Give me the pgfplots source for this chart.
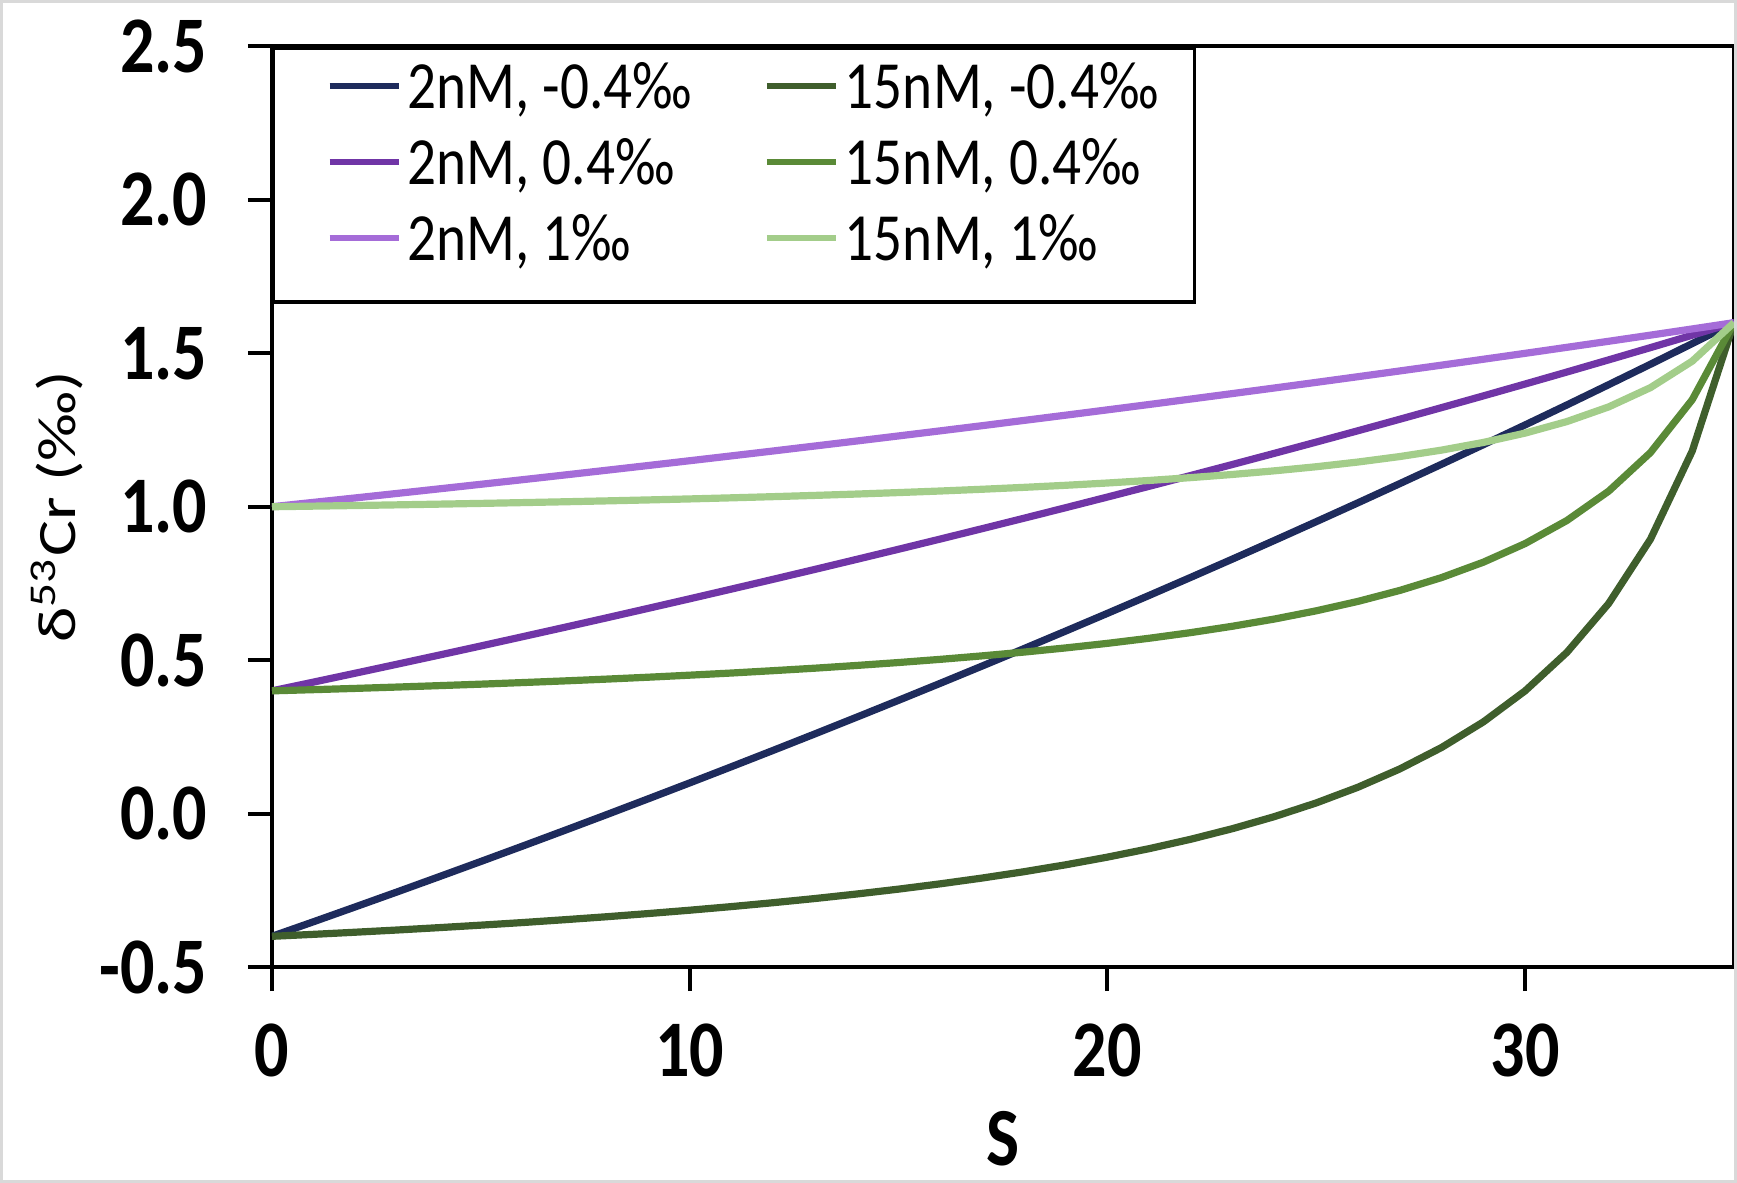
\documentclass[border=0pt]{standalone}
\usepackage{fontspec}
\setmainfont{Carlito}
\usepackage{graphicx}
\usepackage{pgfplots}
\usepackage{pgfplotstable}
\pgfplotsset{compat=1.18}
\definecolor{cA}{HTML}{1E2B5C}
\definecolor{cB}{HTML}{7035A6}
\definecolor{cC}{HTML}{A56CD8}
\definecolor{cD}{HTML}{3F5E2C}
\definecolor{cE}{HTML}{5A8A37}
\definecolor{cF}{HTML}{A3CD8A}
\newcommand{\vs}[1]{\scalebox{1}[1.18]{#1}}
\pgfplotstableread{
S a b c d e f
0 -0.4000 0.4000 1.0000 -0.4000 0.4000 1.0000
1 -0.3522 0.4287 1.0144 -0.3935 0.4039 1.0020
2 -0.3038 0.4577 1.0288 -0.3866 0.4080 1.0040
3 -0.2551 0.4870 1.0435 -0.3794 0.4124 1.0062
4 -0.2058 0.5165 1.0583 -0.3717 0.4170 1.0085
5 -0.1561 0.5463 1.0732 -0.3636 0.4218 1.0109
6 -0.1059 0.5765 1.0882 -0.3551 0.4270 1.0135
7 -0.0552 0.6069 1.1034 -0.3459 0.4324 1.0162
8 -0.0040 0.6376 1.1188 -0.3363 0.4382 1.0191
9 0.0478 0.6687 1.1343 -0.3259 0.4444 1.0222
10 0.1000 0.7000 1.1500 -0.3149 0.4511 1.0255
11 0.1528 0.7317 1.1658 -0.3031 0.4581 1.0291
12 0.2061 0.7636 1.1818 -0.2904 0.4658 1.0329
13 0.2599 0.7959 1.1980 -0.2768 0.4739 1.0370
14 0.3143 0.8286 1.2143 -0.2621 0.4828 1.0414
15 0.3692 0.8615 1.2308 -0.2462 0.4923 1.0462
16 0.4247 0.8948 1.2474 -0.2289 0.5027 1.0513
17 0.4808 0.9285 1.2642 -0.2101 0.5140 1.0570
18 0.5375 0.9625 1.2813 -0.1895 0.5263 1.0632
19 0.5948 0.9969 1.2984 -0.1669 0.5399 1.0699
20 0.6526 1.0316 1.3158 -0.1419 0.5548 1.0774
21 0.7111 1.0667 1.3333 -0.1143 0.5714 1.0857
22 0.7702 1.1021 1.3511 -0.0835 0.5899 1.0950
23 0.8299 1.1380 1.3690 -0.0489 0.6107 1.1053
24 0.8903 1.1742 1.3871 -0.0098 0.6341 1.1171
25 0.9514 1.2108 1.4054 0.0348 0.6609 1.1304
26 1.0130 1.2478 1.4239 0.0860 0.6916 1.1458
27 1.0754 1.2852 1.4426 0.1455 0.7273 1.1636
28 1.1385 1.3231 1.4615 0.2154 0.7692 1.1846
29 1.2022 1.3613 1.4807 0.2988 0.8193 1.2096
30 1.2667 1.4000 1.5000 0.4000 0.8800 1.2400
31 1.3318 1.4391 1.5196 0.5254 0.9552 1.2776
32 1.3978 1.4787 1.5393 0.6847 1.0508 1.3254
33 1.4644 1.5186 1.5593 0.8941 1.1765 1.3882
34 1.5318 1.5591 1.5795 1.1814 1.3488 1.4744
35 1.6000 1.6000 1.6000 1.6000 1.6000 1.6000
}\datatable
\begin{document}
\begin{tikzpicture}
\begin{axis}[
  at={(0,0)}, anchor=south west,
  scale only axis, width=365.5bp, height=230.125bp,
  xmin=0, xmax=35, ymin=-0.5, ymax=2.5,
  xtick={0,10,20,30}, ytick={-0.5,0,0.5,1,1.5,2,2.5},
  tick align=outside, tick pos=left, major tick length=6bp,
  axis line style={line width=1bp, black},
  every tick/.style={black, line width=1bp},
  /pgf/number format/assume math mode=true,
  ticklabel style={font=\fontsize{17bp}{20bp}\selectfont\bfseries, inner sep=0pt},
  yticklabel={\vs{\pgfmathprintnumber[fixed, fixed zerofill, precision=1]{\tick}}},
  xticklabel={\vs{\pgfmathprintnumber{\tick}}},
  yticklabel style={anchor=east, xshift=-10bp},
  xticklabel style={anchor=base, yshift=-21.25bp},
  xlabel={\vs{S}},
  xlabel style={font=\fontsize{17.5bp}{20bp}\selectfont\bfseries, at={(axis description cs:0.5,0)}, anchor=base, yshift=-49.5bp, inner sep=0pt},
  ylabel={\scalebox{1.25}[1]{δ\textsuperscript{53}Cr (‰)}},
  ylabel style={font=\fontsize{13.5bp}{15bp}\selectfont, at={([xshift=-53.75bp]axis description cs:0,0.5)}, anchor=center, inner sep=0pt},
  legend columns=2,
  legend image code/.code={\path[draw=none, fill=none] (0bp,0bp) -- (23.75bp,0bp); \draw[#1, line width=1.6bp] (6.5bp,5.6bp) -- (23.75bp,5.6bp);},
  legend style={at={(0,1)}, anchor=north west, draw=black, line width=0.8bp,
    inner xsep=7.5bp, inner ysep=3.25bp, row sep=0pt,
    font=\fontsize{14.3bp}{16bp}\selectfont,
    nodes={anchor=base west, inner xsep=1.5bp, inner ysep=0pt, text height=11.8bp, text depth=7.2bp},
    /tikz/column 2/.style={nodes={text width=81.75bp, align=flush left}}},
  every axis plot/.append style={line width=1.8bp},
]
\addplot[cA, no marks] table[x=S, y=a] {\datatable};
\addlegendentry{\vs{2nM, -0.4‰}}
\addplot[cD, no marks] table[x=S, y=d] {\datatable};
\addlegendentry{\vs{15nM, -0.4‰}}
\addplot[cB, no marks] table[x=S, y=b] {\datatable};
\addlegendentry{\vs{2nM, 0.4‰}}
\addplot[cE, no marks] table[x=S, y=e] {\datatable};
\addlegendentry{\vs{15nM, 0.4‰}}
\addplot[cC, no marks] table[x=S, y=c] {\datatable};
\addlegendentry{\vs{2nM, 1‰}}
\addplot[cF, no marks] table[x=S, y=f] {\datatable};
\addlegendentry{\vs{15nM, 1‰}}
\end{axis}
\pgfresetboundingbox
\path (-68bp,-54bp) rectangle (366.25bp,241.75bp);
\draw[gray!30, line width=0.75bp] (-67.6bp,-53.6bp) rectangle (365.85bp,241.35bp);
\end{tikzpicture}
\end{document}
